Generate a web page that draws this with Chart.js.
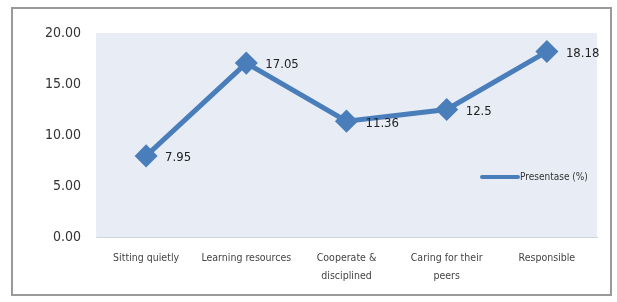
<!DOCTYPE html>
<html>
<head>
<meta charset="utf-8">
<script src="https://cdn.jsdelivr.net/npm/chart.js@4/dist/chart.umd.min.js"></script>
<style>
html,body{margin:0;padding:0;background:#fff;}
#wrap{position:relative;width:617px;height:302px;}
#frame{position:absolute;left:11px;top:7px;width:601px;height:289px;border:2px solid #9a9a9a;box-sizing:border-box;pointer-events:none;}
canvas{position:absolute;left:0;top:0;}
</style>
</head>
<body>
<div id="wrap">
<canvas id="c" width="617" height="302"></canvas>
<div id="frame"></div>
</div>
<script>
const categories = [["Sitting quietly"], ["Learning resources"], ["Cooperate &", "disciplined"], ["Caring for their", "peers"], ["Responsible"]];
const values = [7.95, 17.05, 11.36, 12.5, 18.18];
const valueLabels = ["7.95", "17.05", "11.36", "12.5", "18.18"];
const seriesName = "Presentase (%)";
const yTicks = [0, 5, 10, 15, 20];

const FONT = "'Liberation Sans Narrow','DejaVu Sans Condensed','Roboto Condensed',sans-serif";
const LINE = '#4a7ebb';

const plugin = {
  id: 'deco',
  beforeDatasetsDraw(chart) {
    const {ctx, chartArea: a} = chart;
    ctx.save();
    ctx.fillStyle = '#e8ecf5';
    ctx.fillRect(a.left, a.top, a.right - a.left, a.bottom - a.top);
    ctx.restore();
  },
  afterDatasetsDraw(chart) {
    const {ctx} = chart;
    const meta = chart.getDatasetMeta(0);
    ctx.save();
    ctx.font = "13px " + FONT;
    ctx.fillStyle = '#222';
    ctx.textBaseline = 'middle';
    ctx.textAlign = 'left';
    meta.data.forEach((p, i) => {
      ctx.fillText(valueLabels[i], p.x + 19, p.y + 2);
    });
    // legend
    const lx = 482, ly = 177;
    ctx.strokeStyle = LINE;
    ctx.lineWidth = 4;
    ctx.lineCap = 'round';
    ctx.beginPath(); ctx.moveTo(lx, ly); ctx.lineTo(lx + 36, ly); ctx.stroke();
    ctx.font = "10px " + FONT;
    ctx.fillStyle = '#333';
    ctx.fillText(seriesName, lx + 38, ly);
    ctx.restore();
  }
};

new Chart(document.getElementById('c'), {
  type: 'line',
  data: {
    labels: categories,
    datasets: [{
      label: seriesName,
      data: values,
      borderColor: LINE,
      backgroundColor: LINE,
      borderWidth: 5,
      pointStyle: 'rectRot',
      pointRadius: 8,
      pointHoverRadius: 8,
      tension: 0,
      fill: false
    }]
  },
  options: {
    responsive: false,
    animation: false,
    events: [],
    layout: {padding: {left: 0, right: 20, top: 33, bottom: 0}},
    plugins: {legend: {display: false}, tooltip: {enabled: false}},
    scales: {
      x: {
        offset: true,
        grid: {display: false, drawTicks: false, offset: true},
        border: {display: true, color: '#cfd3da', width: 1},
        ticks: {font: {family: FONT, size: 10.5, lineHeight: 1.75}, color: '#444', padding: 12, maxRotation: 0, autoSkip: false},
        afterFit(s) { s.height = 65; }
      },
      y: {
        min: 0, max: 20,
        grid: {display: false, drawTicks: false},
        border: {display: true, color: '#dde0e6', width: 1},
        afterBuildTicks(s) { s.ticks = yTicks.map(v => ({value: v})); },
        ticks: {
          font: {family: FONT, size: 14}, color: '#333', padding: 15,
          callback: v => Number(v).toFixed(2)
        },
        afterFit(s) { s.width = 96; }
      }
    }
  },
  plugins: [plugin]
});
</script>
</body>
</html>
